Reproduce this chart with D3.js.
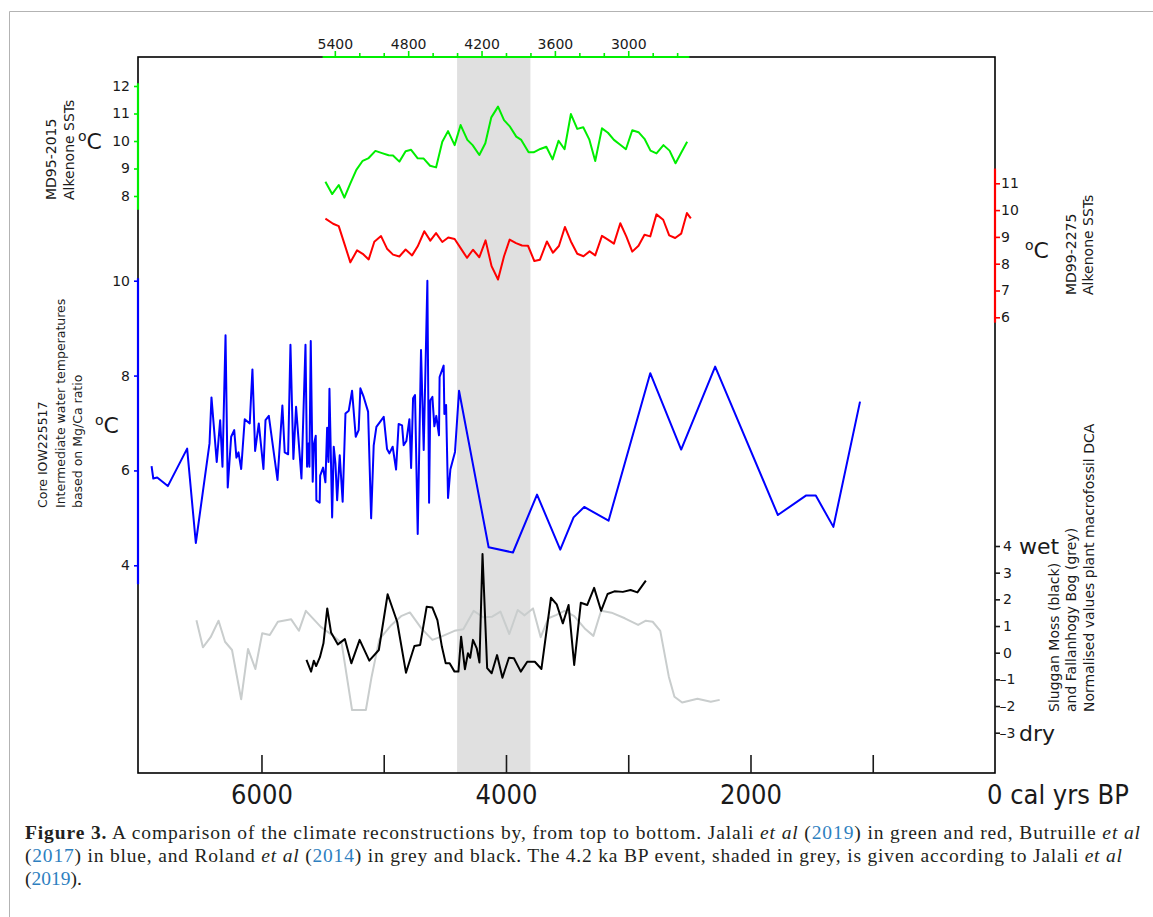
<!DOCTYPE html>
<html>
<head>
<meta charset="utf-8">
<script src="https://cdn.jsdelivr.net/npm/d3@7"></script>
<style>
body { margin: 0; background: #fff; }
svg { display: block; }
</style>
</head>
<body>
<svg id="chart" width="1153" height="917"></svg>
<script>
// MD95-2015 alkenone SST (green)
var greenYears = [5477,5422,5368,5322,5273,5224,5172,5123,5068,5014,4960,4924,4872,4821,4776,4722,4673,4621,4572,4521,
  4474,4420,4371,4316,4273,4218,4169,4120,4065,4016,3967,3916,3875,3815,3774,3719,3670,3619,3570,3521,
  3469,3417,3368,3319,3270,3215,3166,3117,3068,3019,2967,2916,2867,2818,2769,2712,2662,2613,2567,2518];
var greenSST = [8.52,8.07,8.40,7.94,8.46,8.95,9.28,9.38,9.64,9.56,9.48,9.47,9.25,9.63,9.68,9.37,9.36,9.10,9.04,9.97,
  10.36,9.85,10.58,10.04,9.85,9.49,9.92,10.86,11.25,10.76,10.52,10.16,10.04,9.59,9.59,9.71,9.79,9.33,10.01,9.70,
  10.98,10.44,10.50,10.06,9.27,10.46,10.30,10.04,9.87,9.70,10.39,10.32,10.08,9.65,9.55,9.85,9.65,9.19,9.57,9.97];

// MD99-2275 alkenone SST (red)
var redYears = [5477,5414,5368,5322,5273,5218,5172,5123,5077,5022,4973,4924,4872,4821,4768,4722,4668,4619,4572,4521,
  4472,4420,4371,4319,4270,4218,4167,4118,4065,4016,3970,3918,3869,3820,3768,3722,3665,3616,3567,3518,
  3469,3417,3366,3316,3270,3215,3166,3117,3065,3016,2967,2916,2867,2820,2769,2714,2665,2616,2567,2520,2488];
var redSST = [9.68,9.49,9.40,8.75,8.05,8.50,8.37,8.16,8.82,9.03,8.56,8.34,8.27,8.53,8.31,8.65,9.21,8.86,9.14,8.81,
  8.98,8.92,8.58,8.22,8.52,8.24,8.87,7.91,7.41,8.28,8.90,8.77,8.68,8.67,8.10,8.15,8.83,8.41,8.66,9.37,
  8.83,8.37,8.28,8.46,8.31,9.04,8.90,8.75,9.51,9.02,8.45,8.67,9.08,9.02,9.84,9.64,9.06,8.96,9.12,9.89,9.69];

// Core IOW225517 Mg/Ca temperatures (blue)
var blueYears = [6899,6885,6853,6766,6608,6537,6425,6409,6366,6338,6319,6294,6276,6248,6223,6205,6188,6166,6137,6096,
  6074,6052,6022,5984,5967,5940,5869,5829,5810,5782,5763,5739,5717,5673,5640,5627,5616,5608,5597,5581,
  5569,5556,5551,5524,5520,5496,5477,5463,5452,5444,5434,5422,5409,5395,5381,5360,5336,5313,5286,5259,
  5229,5205,5191,5164,5128,5103,5082,5060,5000,4973,4954,4927,4899,4878,4850,4837,4815,4790,4776,4760,
  4744,4722,4695,4673,4643,4629,4619,4602,4586,4570,4548,4543,4510,4504,4490,4474,4455,4417,4384,4142,
  3943,3746,3556,3447,3360,3161,2820,2567,2289,1776,1547,1466,1322,1104];
var blueTemp = [6.09,5.83,5.85,5.67,6.46,4.47,6.57,7.54,6.18,7.06,6.08,8.85,5.64,6.71,6.85,6.27,6.38,6.03,7.08,6.99,
  8.13,6.41,6.99,6.03,7.06,7.15,5.80,7.37,6.38,6.34,8.65,6.24,7.34,5.83,8.65,6.08,6.57,6.08,8.73,5.76,
  6.57,6.73,5.37,5.32,5.89,6.06,5.75,6.90,6.18,7.72,6.50,5.01,6.50,6.15,5.37,6.32,5.34,7.20,7.26,7.68,
  6.71,6.85,7.73,7.55,7.24,4.99,6.53,6.92,7.13,6.45,6.36,6.50,6.02,6.98,6.95,6.53,6.62,7.08,6.05,7.52,
  7.59,4.66,8.54,6.43,10.0,5.32,7.48,7.55,6.93,7.15,6.74,7.97,8.21,7.19,7.38,5.42,6.02,6.39,7.68,4.38,
  4.27,5.49,4.33,5.01,5.23,4.94,8.05,6.44,8.19,5.06,5.47,5.47,4.81,7.45];

// Sluggan Moss DCA (black)
var blackYears = [5632,5594,5572,5553,5522,5493,5462,5431,5375,5318,5265,5197,5118,5040,4968,4890,4818,4749,4702,4649,
  4602,4561,4524,4493,4461,4421,4389,4367,4336,4311,4293,4270,4239,4217,4192,4154,4117,4073,4029,3976,
  3935,3879,3826,3764,3710,3632,3585,3535,3488,3442,3388,3335,3279,3222,3169,3113,3044,2981,2925,2856];
var blackDCA = [-0.27,-0.71,-0.30,-0.50,-0.17,0.35,1.66,0.76,0.31,0.51,-0.40,0.48,-0.30,0.10,2.19,1.16,-0.75,0.25,0.29,1.72,
  1.69,1.22,0.22,-0.40,-0.40,-0.71,-0.71,0.60,-0.62,-0.02,-0.19,0.48,0.16,-0.37,3.70,-0.58,-0.77,-0.09,-0.94,-0.19,
  -0.21,-0.71,-0.34,-0.34,-0.61,2.06,1.81,1.10,1.79,-0.46,1.87,1.79,2.43,1.57,2.20,2.30,2.28,2.35,2.26,2.70];

// Fallanhogy Bog DCA (grey)
var greyYears = [6532,6479,6416,6351,6298,6241,6166,6110,6050,5994,5932,5866,5757,5694,5637,5515,5421,5344,5259,5146,
  5099,5036,4937,4858,4786,4692,4602,4530,4421,4349,4264,4186,4113,4045,3973,3904,3848,3779,3716,3654,
  3591,3522,3442,3356,3285,3222,3137,3028,2919,2856,2800,2738,2668,2622,2559,2434,2325,2252];
var greyDCA = [1.22,0.20,0.58,1.20,0.41,0.10,-1.75,0.14,-0.61,0.73,0.66,1.16,1.25,0.82,1.57,0.97,0.66,0.35,-2.15,-2.15,
  -0.90,0.50,1.04,1.37,1.51,0.91,0.48,0.60,0.82,0.88,1.57,1.33,1.35,1.54,0.70,1.60,1.40,1.66,0.58,1.29,
  1.41,1.57,1.37,0.91,0.63,1.57,1.50,1.29,1.04,1.20,1.16,0.82,-0.90,-1.65,-1.87,-1.73,-1.84,-1.77];

var eventStart = 4400, eventEnd = 3800;
var topTicks = [5400,5200,5000,4800,4600,4400,4200,4000,3800,3600,3400,3200,3000,2800,2600];
var topLabels = [5400,4800,4200,3600,3000];
var bottomTicks = [6000,5000,4000,3000,2000,1000];
var bottomLabels = [6000,4000,2000];

var sans = "'DejaVu Sans', Verdana, sans-serif";
var narrow = "'DejaVu Sans Condensed', 'Liberation Sans Narrow', 'DejaVu Sans', sans-serif";
var ink = "#1a1a1a";

var svg = d3.select("#chart");

var x = d3.scaleLinear().domain([7010, 0]).range([138, 995]);
var yGreen = d3.scaleLinear().domain([8, 12]).range([196, 86]);
var yRed = d3.scaleLinear().domain([6, 11]).range([317.3, 183.3]);
var yBlue = d3.scaleLinear().domain([4, 10]).range([565.3, 280.7]);
var yDca = d3.scaleLinear().domain([-3, 4]).range([732.7, 546]);

var plotTop = 57, plotBottom = 773, plotLeft = 138, plotRight = 995;

// figure border
svg.append("path").attr("d", "M9.5,917V11.5H1153").attr("fill", "none")
  .attr("stroke", "#b3b3b3").attr("stroke-width", 1);

// 4.2 ka event shading
svg.append("rect")
  .attr("x", x(eventStart)).attr("y", plotTop)
  .attr("width", x(eventEnd) - x(eventStart)).attr("height", plotBottom - plotTop)
  .attr("fill", "#e0e0e0");

function drawSeries(years, vals, yScale, color) {
  var line = d3.line().x(function (d) { return x(d[0]); }).y(function (d) { return yScale(d[1]); });
  svg.append("path").datum(d3.zip(years, vals))
    .attr("d", line).attr("fill", "none").attr("stroke", color)
    .attr("stroke-width", 2).attr("stroke-linejoin", "round");
}
drawSeries(greyYears, greyDCA, yDca, "#c9cdcd");
drawSeries(blackYears, blackDCA, yDca, "#000");
drawSeries(blueYears, blueTemp, yBlue, "#0000ff");
drawSeries(redYears, redSST, yRed, "#ff0000");
drawSeries(greenYears, greenSST, yGreen, "#00ee00");

// plot frame
svg.append("rect").attr("x", plotLeft).attr("y", plotTop)
  .attr("width", plotRight - plotLeft).attr("height", plotBottom - plotTop)
  .attr("fill", "none").attr("stroke", "#000").attr("stroke-width", 1.6);

function segV(xp, y1, y2, color) {
  svg.append("line").attr("x1", xp).attr("x2", xp).attr("y1", y1).attr("y2", y2)
    .attr("stroke", color).attr("stroke-width", 2.2);
}
segV(plotLeft, yGreen(7.5), yGreen(12.1), "#00ee00");
segV(plotLeft, yBlue(3.6), yBlue(10.05), "#0000ff");
segV(plotRight, yRed(5.8), yRed(11.55), "#ff0000");
svg.append("line").attr("x1", x(5500)).attr("x2", x(2500)).attr("y1", plotTop).attr("y2", plotTop)
  .attr("stroke", "#00ee00").attr("stroke-width", 2.2);

function styleAxis(g, color, size) {
  g.select(".domain").remove();
  g.selectAll(".tick line").attr("stroke", color).attr("stroke-width", 1.6);
  g.selectAll(".tick text").attr("fill", ink).style("font-family", sans).style("font-size", size + "px");
}
var intFmt = d3.format("d");

svg.append("g").attr("transform", "translate(" + plotLeft + ",0)")
  .call(d3.axisLeft(yGreen).tickValues([8, 9, 10, 11, 12]).tickFormat(intFmt).tickSize(4).tickPadding(4))
  .call(styleAxis, "#00ee00", 14);

svg.append("g").attr("transform", "translate(" + plotLeft + ",0)")
  .call(d3.axisLeft(yBlue).tickValues([4, 6, 8, 10]).tickFormat(intFmt).tickSize(4).tickPadding(4))
  .call(styleAxis, "#0000ff", 14);

svg.append("g").attr("transform", "translate(" + plotRight + ",0)")
  .call(d3.axisRight(yRed).tickValues([6, 7, 8, 9, 10, 11]).tickFormat(intFmt).tickSize(5).tickPadding(1))
  .call(styleAxis, "#ff0000", 14);

var gDca = svg.append("g").attr("transform", "translate(" + plotRight + ",0)")
  .call(d3.axisRight(yDca).tickValues([-3, -2, -1, 0, 1, 2, 3, 4]).tickSize(5).tickPadding(3)
    .tickFormat(function (d) { return d < 0 ? "\u2013" + (-d) : String(d); }))
  .call(styleAxis, ink, 14);
gDca.selectAll(".tick text").attr("x", function (d) { return d < 0 ? 4.5 : 8; });

var gTop = svg.append("g").attr("transform", "translate(0," + plotTop + ")")
  .call(d3.axisTop(x).tickValues(topTicks).tickSize(5).tickPadding(3)
    .tickFormat(function (d) { return topLabels.indexOf(d) >= 0 ? String(d) : ""; }))
  .call(styleAxis, "#00ee00", 14);
gTop.selectAll(".tick line").attr("y2", function (d) { return topLabels.indexOf(d) >= 0 ? -6 : -4; });

var gBot = svg.append("g").attr("transform", "translate(0," + plotBottom + ")")
  .call(d3.axisBottom(x).tickValues(bottomTicks).tickSize(-18).tickPadding(12)
    .tickFormat(function (d) { return bottomLabels.indexOf(d) >= 0 ? String(d) : ""; }))
  .call(styleAxis, ink, 27);
gBot.selectAll(".tick text").style("font-family", narrow).style("font-stretch", "condensed");
svg.append("text").attr("x", x(0) - 8).attr("y", plotBottom + 12).attr("dy", "0.71em")
  .attr("fill", ink).style("font-family", narrow).style("font-stretch", "condensed")
  .style("font-size", "27px").text("0 cal yrs BP");

// rotated axis titles
function vlabel(lines, xs, yStart, size) {
  lines.forEach(function (t, i) {
    svg.append("text").attr("transform", "translate(" + xs[i] + "," + yStart + ") rotate(-90)")
      .attr("fill", ink).style("font-family", sans).style("font-size", size + "px").text(t);
  });
}
vlabel(["MD95-2015", "Alkenone SSTs"], [56, 74], 200, 14);
vlabel(["Core IOW225517", "Intermediate water temperatures", "based on Mg/Ca ratio"], [47, 65, 82], 508, 12.5);
vlabel(["MD99-2275", "Alkenone SSTs"], [1076, 1093], 295, 14);
vlabel(["Sluggan Moss (black)", "and Fallanhogy Bog (grey)", "Normalised values plant macrofossil DCA"],
  [1059, 1076, 1094], 712, 14);

function degC(xp, yp) {
  var t = svg.append("text").attr("x", xp).attr("y", yp).attr("fill", ink)
    .style("font-family", sans).style("font-size", "22px");
  t.append("tspan").style("font-size", "14px").attr("dy", -8).text("o");
  t.append("tspan").attr("dy", 8).text("C");
}
degC(78, 149);
degC(95, 433);
degC(1025, 258);

function word(t, xp, yp) {
  svg.append("text").attr("x", xp).attr("y", yp).attr("fill", ink)
    .style("font-family", sans).style("font-size", "22px").text(t);
}
word("wet", 1019, 554);
word("dry", 1019, 741);

// caption
var captionLines = [
  [["b", "Figure 3."], ["n", " A comparison of the climate reconstructions by, from top to bottom. Jalali "], ["i", "et al"],
   ["n", " ("], ["l", "2019"], ["n", ") in green and red, Butruille "], ["i", "et al"]],
  [["n", "("], ["l", "2017"], ["n", ") in blue, and Roland "], ["i", "et al"], ["n", " ("], ["l", "2014"],
   ["n", ") in grey and black. The 4.2 ka BP event, shaded in grey, is given according to Jalali "], ["i", "et al"]],
  [["n", "("], ["l", "2019"], ["n", ")."]]
];
var capY = [839, 862, 885];
var capWidth = [1115, 1097, 0];
captionLines.forEach(function (parts, i) {
  var t = svg.append("text").attr("x", 25).attr("y", capY[i]).attr("fill", "#231f20")
    .style("font-family", "'Liberation Serif', 'Times New Roman', serif").style("font-size", "19.5px");
  parts.forEach(function (p) {
    var s = t.append("tspan").text(p[1]);
    if (p[0] === "b") s.style("font-weight", "bold");
    if (p[0] === "i") s.style("font-style", "italic");
    if (p[0] === "l") s.attr("fill", "#2e7fbf");
  });
  if (capWidth[i] > 0) t.attr("textLength", capWidth[i]).attr("lengthAdjust", "spacing");
});
</script>
</body>
</html>
